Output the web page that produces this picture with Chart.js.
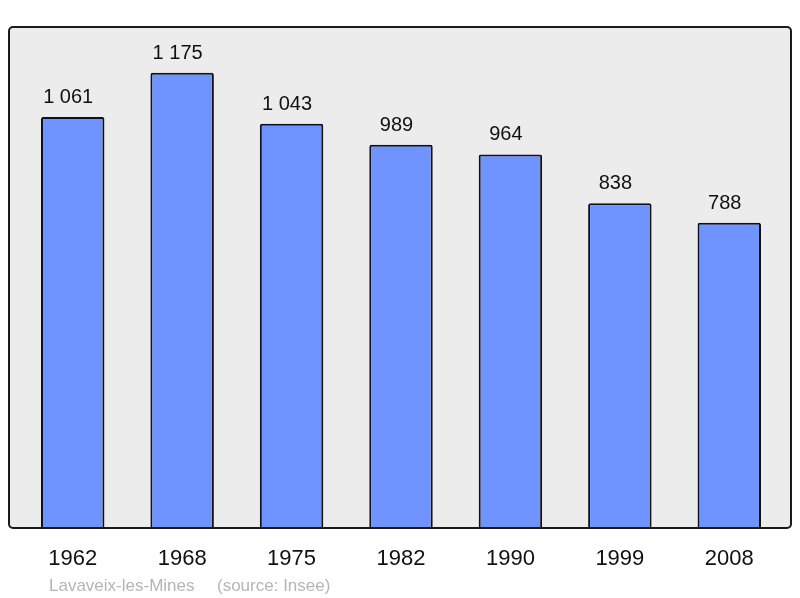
<!DOCTYPE html>
<html>
<head>
<meta charset="utf-8">
<script src="https://cdn.jsdelivr.net/npm/chart.js@4"></script>
<style>
    html, body { margin: 0; padding: 0; background: #fff; }
    #wrap { width: 800px; height: 598px; }
</style>
</head>
<body>
<div id="wrap"><canvas id="chart" width="800" height="598"></canvas></div>
<script>
// Population - Lavaveix-les-Mines
const years = ['1962', '1968', '1975', '1982', '1990', '1999', '2008'];
const population = [1061, 1175, 1043, 989, 964, 838, 788];
const valueLabels = ['1 061', '1 175', '1 043', '989', '964', '838', '788'];
const footerTexts = ['Lavaveix-les-Mines', '(source: Insee)'];

const FONT = '"Liberation Sans", Arial, sans-serif';

// Fond gris + cadre autour de la zone du graphique
const framePlugin = {
    id: 'frame',
    beforeDatasetsDraw(chart) {
        const { ctx, chartArea } = chart;
        ctx.save();
        ctx.beginPath();
        ctx.roundRect(9, chartArea.top, 782, chartArea.bottom - chartArea.top, 4);
        ctx.fillStyle = '#ececec';
        ctx.fill();
        ctx.restore();
    },
    afterDatasetsDraw(chart) {
        const { ctx, chartArea } = chart;
        ctx.save();
        ctx.beginPath();
        ctx.roundRect(9, chartArea.top, 782, chartArea.bottom - chartArea.top, 4);
        ctx.lineWidth = 2;
        ctx.strokeStyle = '#1a1a1a';
        ctx.stroke();
        ctx.restore();
    }
};

// Valeurs au-dessus des barres, années et source en bas
const labelsPlugin = {
    id: 'labels',
    afterDraw(chart) {
        const { ctx, chartArea } = chart;
        const meta = chart.getDatasetMeta(0);
        const xScale = chart.scales.x;
        ctx.save();
        ctx.textAlign = 'center';
        ctx.textBaseline = 'middle';
        ctx.fillStyle = '#111';
        ctx.font = '20px ' + FONT;
        meta.data.forEach((bar, i) => {
            ctx.fillText(valueLabels[i], bar.x - 4.5, bar.y - 19.5);
        });
        ctx.font = '22px ' + FONT;
        years.forEach((y, i) => {
            ctx.fillText(y, xScale.getPixelForValue(i), chartArea.bottom + 30.5);
        });
        ctx.textAlign = 'left';
        ctx.fillStyle = '#b5b5b5';
        ctx.font = '17px ' + FONT;
        ctx.fillText(footerTexts[0], 49, chartArea.bottom + 58);
        ctx.fillText(footerTexts[1], 217, chartArea.bottom + 58);
        ctx.restore();
    }
};

new Chart(document.getElementById('chart').getContext('2d'), {
    type: 'bar',
    data: {
        labels: years,
        datasets: [{
            data: population,
            backgroundColor: '#7094ff',
            borderColor: '#111',
            borderWidth: 2,
            borderRadius: 2,
            categoryPercentage: 1,
            barPercentage: 0.58
        }]
    },
    options: {
        responsive: false,
        animation: false,
        layout: {
            padding: { left: 18, right: 16, top: 27, bottom: 70 }
        },
        plugins: {
            legend: { display: false },
            tooltip: { enabled: false }
        },
        scales: {
            x: { display: false },
            y: { display: false, min: 0, max: 1293 }
        }
    },
    plugins: [framePlugin, labelsPlugin]
});
</script>
</body>
</html>
